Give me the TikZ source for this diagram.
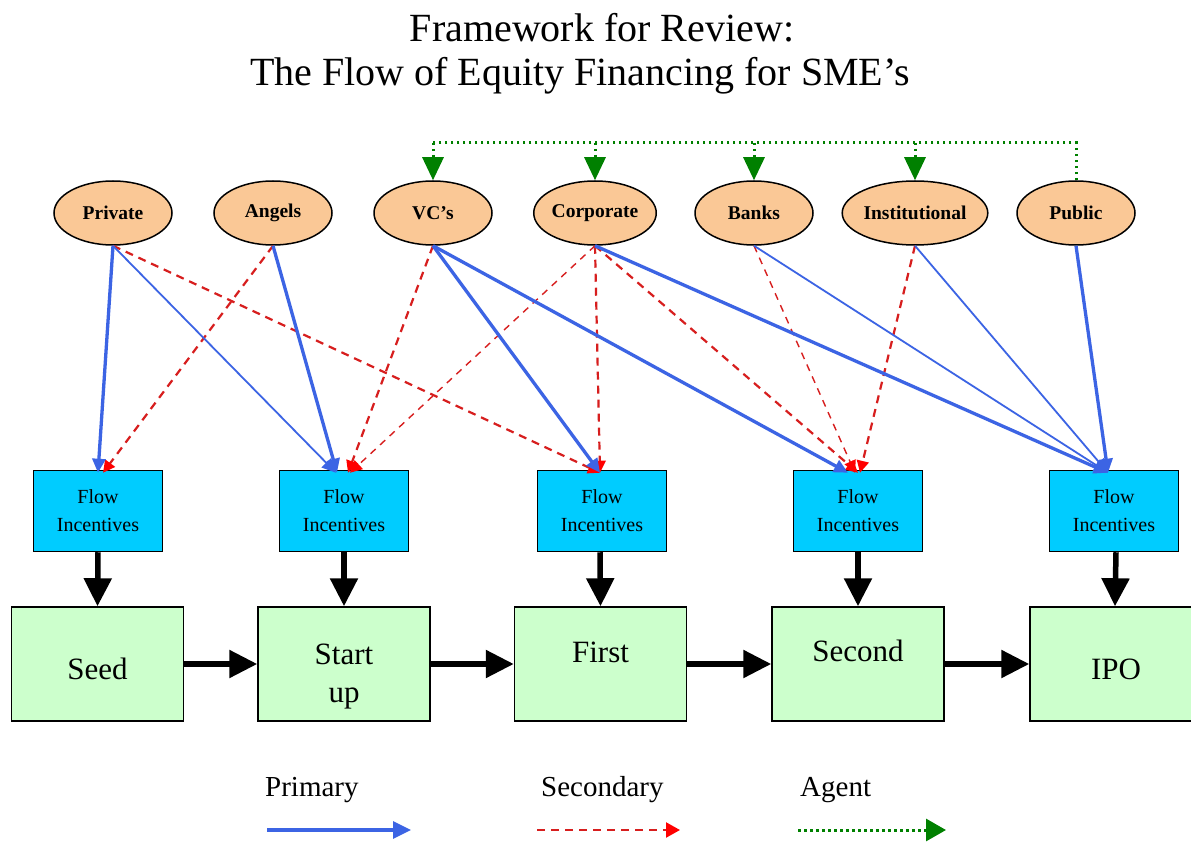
\documentclass[tikz,border=0pt]{standalone}
\usepackage{fontspec}
\setmainfont{Liberation Serif}
\usetikzlibrary{arrows.meta,shapes.geometric}
\definecolor{priblue}{RGB}{60,100,228}
\definecolor{secred}{RGB}{215,30,30}
\definecolor{agentgreen}{RGB}{0,128,0}
\definecolor{srcfill}{RGB}{250,200,150}
\definecolor{flowfill}{RGB}{0,204,255}
\definecolor{stagefill}{RGB}{204,255,204}
\newcommand\stagetext[3]{\raisebox{0pt}[\dimexpr\height+#1\relax][\dimexpr\depth+#2\relax]{\begin{tabular}{@{}c@{}}#3\end{tabular}}}
\tikzset{
  src/.style={ellipse, draw=black, line width=1.5pt, fill=srcfill, minimum width=118pt, minimum height=64pt, inner sep=0pt, font=\fontsize{19.5}{21}\selectfont\bfseries},
  flowbox/.style={rectangle, draw=black, line width=1.5pt, fill=flowfill, minimum width=129pt, minimum height=81pt, inner sep=0pt, align=center, font=\fontsize{20}{28}\selectfont},
  stagebox/.style={rectangle, draw=black, line width=1.5pt, fill=stagefill, minimum width=172pt, minimum height=114pt, inner sep=0pt, font=\fontsize{31}{38}\selectfont},
  pri/.style={draw=priblue, line width=3.3pt, -{Triangle[length=14pt,width=13pt,color=priblue]}},
  prithin/.style={draw=priblue, line width=1.8pt, -{Triangle[length=14pt,width=13pt,color=priblue]}},
  sec/.style={draw=secred, line width=2.2pt, dash pattern=on 8pt off 6pt, -{Triangle[length=12pt,width=12pt,color=red]}},
  secthin/.style={draw=secred, line width=1.4pt, dash pattern=on 7pt off 6pt, -{Triangle[length=12pt,width=12pt,color=red]}},
  agent/.style={draw=agentgreen, line width=3pt, dash pattern=on 2.5pt off 3.5pt, -{Triangle[length=23pt,width=21pt,color=agentgreen]}},
  agentline/.style={draw=agentgreen, line width=3pt, dash pattern=on 2.5pt off 3.5pt},
  flowarrow/.style={draw=black, line width=5.5pt, -{Triangle[length=28pt,width=27pt]}},
  lbl/.style={inner sep=0pt, font=\fontsize{29}{34}\selectfont},
  titlefont/.style={inner sep=0pt, anchor=base, font=\fontsize{40}{44}\selectfont}
}
\begin{document}
\begin{tikzpicture}[x=1pt,y=-1pt]
\useasboundingbox[fill=white] (0,0) rectangle (1191,842);

% title
\node[titlefont] (t1) at (602,42) {Framework for Review:};
\node[titlefont] (t2) at (580,86) {The Flow of Equity Financing for SME’s};

% sources
\node[src] (pri) at (113,213) {Private};
\node[src] (ang) at (273,213) {Angels};
\node[src] (vc)  at (433,213) {VC's};
\node[src] (cor) at (595,213) {Corporate};
\node[src] (ban) at (754,213) {Banks};
\node[src] (ins) at (915,213) {Institutional};
\node[src] (pub) at (1076,213) {Public};

% flow incentive boxes
\node[flowbox] (f1) at (98,511)  {Flow\\Incentives};
\node[flowbox] (f2) at (344,511) {Flow\\Incentives};
\node[flowbox] (f3) at (602,511) {Flow\\Incentives};
\node[flowbox] (f4) at (858,511) {Flow\\Incentives};
\node[flowbox] (f5) at (1114,511) {Flow\\Incentives};

% stage boxes
\node[stagebox] (s1) at (97.5,664) {\stagetext{16pt}{0pt}{Seed}};
\node[stagebox] (s2) at (344,664) {\stagetext{24pt}{0pt}{Start\\up}};
\node[stagebox] (s3) at (600.5,664) {\stagetext{0pt}{18pt}{First}};
\node[stagebox] (s4) at (858,664) {\stagetext{0pt}{20pt}{Second}};
\node[stagebox] (s5) at (1116,664) {\stagetext{16pt}{0pt}{IPO}};

% agent connector
\coordinate (ga) at (433,143);
\coordinate (gb) at (595,143);
\coordinate (gc) at (754,143);
\coordinate (gd) at (915,143);
\coordinate (ge) at (1076,143);
\draw[agentline] (pub.north) -- (ge) -- (ga);
\draw[agent] (ga) -- (vc.north);
\draw[agent] (gb) -- (cor.north);
\draw[agent] (gc) -- (ban.north);
\draw[agent] (gd) -- (ins.north);

% secondary connectors
\draw[sec] (ang.south) -- ([xshift=5pt,yshift=-3pt]f1.north);
\draw[sec] (pri.south) -- ([xshift=-2pt,yshift=-3pt]f3.north);
\draw[sec] (vc.south) -- ([xshift=4pt,yshift=-3pt]f2.north);
\draw[secthin] (cor.south) -- ([xshift=6pt,yshift=-3pt]f2.north);
\draw[sec] (cor.south) -- ([xshift=-2pt,yshift=-3pt]f3.north);
\draw[sec] (cor.south) -- ([xshift=0pt,yshift=-3pt]f4.north);
\draw[secthin] (ban.south) -- ([xshift=-3pt,yshift=-3pt]f4.north);
\draw[sec] (ins.south) -- ([xshift=2pt,yshift=-3pt]f4.north);

% primary connectors
\draw[pri] (pri.south) -- ([xshift=0pt,yshift=-3pt]f1.north);
\draw[prithin] (pri.south) -- ([xshift=-8pt,yshift=-3pt]f2.north);
\draw[pri] (ang.south) -- ([xshift=-7pt,yshift=-3pt]f2.north);
\draw[pri] (vc.south) -- ([xshift=-2pt,yshift=-3pt]f3.north);
\draw[pri] (vc.south) -- ([xshift=-10pt,yshift=-3pt]f4.north);
\draw[pri] (cor.south) -- ([xshift=-6pt,yshift=-3pt]f5.north);
\draw[prithin] (ban.south) -- ([xshift=-6pt,yshift=-3pt]f5.north);
\draw[prithin] (ins.south) -- ([xshift=-6pt,yshift=-3pt]f5.north);
\draw[pri] (pub.south) -- ([xshift=-6pt,yshift=-3pt]f5.north);

% flow arrows
\draw[flowarrow] (f1.south) -- (s1.north);
\draw[flowarrow] (f2.south) -- (s2.north);
\draw[flowarrow] ([xshift=-2pt]f3.south) -- (s3.north);
\draw[flowarrow] (f4.south) -- (s4.north);
\draw[flowarrow] ([xshift=2pt]f5.south) -- ([xshift=-1pt]s5.north);
\draw[flowarrow] (s1.east) -- (s2.west);
\draw[flowarrow] (s2.east) -- (s3.west);
\draw[flowarrow] (s3.east) -- (s4.west);
\draw[flowarrow] (s4.east) -- (s5.west);

% legend
\node[lbl, anchor=west] (lp) at (265,790) {Primary};
\node[lbl, anchor=west] (ls) at (541,790) {Secondary};
\node[lbl, anchor=west] (la) at (800,790) {Agent};
\coordinate (lp1) at (267,830); \coordinate (lp2) at (411,830);
\coordinate (ls1) at (537,830); \coordinate (ls2) at (680,830);
\coordinate (la1) at (798,830); \coordinate (la2) at (946,830);
\draw[pri, -{Triangle[length=18pt,width=17pt,color=priblue]}] (lp1) -- (lp2);
\draw[sec, -{Triangle[length=14pt,width=15pt,color=red]}] (ls1) -- (ls2);
\draw[agentline, -{Triangle[length=20pt,width=22pt,color=agentgreen]}] (la1) -- (la2);
\end{tikzpicture}
\end{document}
